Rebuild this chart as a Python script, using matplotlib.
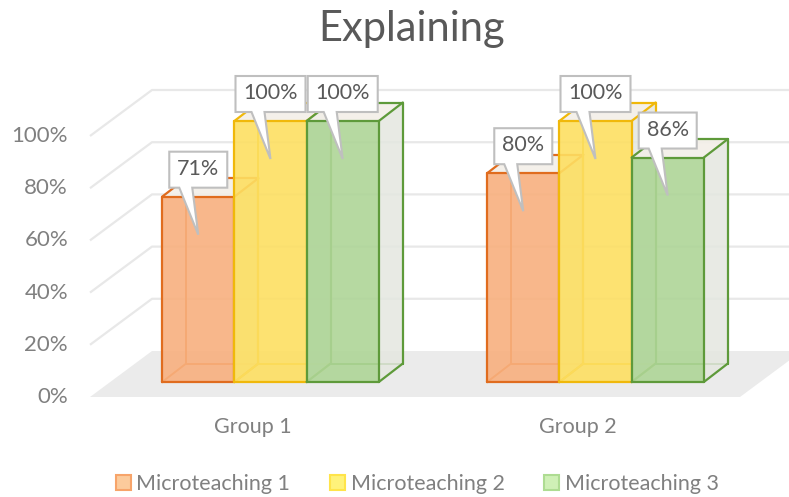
import matplotlib.pyplot as plt
from matplotlib.patches import Polygon, Patch

plt.rcParams['font.family'] = ['Lato', 'DejaVu Sans']

groups = ['Group 1', 'Group 2']
series = ['Microteaching 1', 'Microteaching 2', 'Microteaching 3']
values = [[71, 100, 100],    # Group 1
          [80, 100, 86]]     # Group 2
yticks = [0, 20, 40, 60, 80, 100]

face_colors = ['#F8B07E', '#FDDF62', '#AED597']
edge_colors = ['#E06C1E', '#F0B80A', '#5E9A3A']
legend_face = ['#FCCB9C', '#FFF27A', '#CFF0B6']
legend_edge = ['#F7A46A', '#FFE44A', '#AEDC92']

W, H, DPI = 789, 497, 100
PX = 325.0   # pixels per category
PY = 2.61    # pixels per percent
X0, Y0 = 90, 397   # front-left corner of the floor


def sx(p):
    return p / PX


def sy(p):
    return p / PY


# depth of the floor and of the bars, in data units
FDX, FDY = sx(62), sy(46)
BFX, BFY = sx(18), sy(15)
BBX, BBY = sx(42), sy(33.5)

GAP = 1.5
bw = 1.0 / (len(series) + GAP)

fig = plt.figure(figsize=(W / DPI, H / DPI), dpi=DPI)
ax = fig.add_axes([0, 0, 1, 1])
ax.set_xlim(-X0 / PX, (W - X0) / PX)
ax.set_ylim((Y0 - H) / PY, Y0 / PY)
ax.axis('off')

ncat = len(groups)

# floor
ax.add_patch(Polygon([(0, 0), (ncat, 0), (ncat + FDX, FDY), (FDX, FDY)],
                     closed=True, facecolor='#EBEBEB', edgecolor='none', zorder=1))

# side-wall and back-wall gridlines
for v in yticks[1:]:
    ax.plot([0, FDX, ncat + FDX + 0.2], [v, v + FDY, v + FDY],
            color='#E8E8E8', lw=1.6, zorder=1, solid_capstyle='butt')

for v in yticks:
    ax.text(sx(-22), v, f'{v}%', ha='right', va='center',
            fontsize=16, color='#808080')

for g, name in enumerate(groups):
    ax.text(g + 0.5, sy(-30), name, ha='center', va='center',
            fontsize=15.5, color='#808080')

z = 3
for g in range(ncat):
    for s in range(len(series)):
        v = values[g][s]
        x0 = g + 0.75 * bw + s * bw
        x1 = x0 + bw
        fl, fr = x0 + BFX, x1 + BFX
        bl, br = x0 + BBX, x1 + BBX
        f_lb, f_rb, f_rt, f_lt = (fl, BFY), (fr, BFY), (fr, v + BFY), (fl, v + BFY)
        b_lb, b_rb, b_rt, b_lt = (bl, BBY), (br, BBY), (br, v + BBY), (bl, v + BBY)
        ec = edge_colors[s]

        # hidden edges first so they show through the front face
        for a, b in [(b_lb, b_lt), (b_lb, b_rb), (f_lb, b_lb)]:
            ax.plot([a[0], b[0]], [a[1], b[1]], color=ec, lw=1.4, zorder=z)
        ax.add_patch(Polygon([f_rb, b_rb, b_rt, f_rt], closed=True,
                             facecolor='#E4E7E0', alpha=0.85, edgecolor='none', zorder=z + 1))
        ax.add_patch(Polygon([f_lt, f_rt, b_rt, b_lt], closed=True,
                             facecolor='#F3EFE8', alpha=0.9, edgecolor='none', zorder=z + 1))
        ax.add_patch(Polygon([f_lb, f_rb, f_rt, f_lt], closed=True,
                             facecolor=face_colors[s], alpha=0.9, edgecolor='none', zorder=z + 2))
        for a, b in [(f_lb, f_rb), (f_rb, f_rt), (f_rt, f_lt), (f_lt, f_lb),
                     (f_lt, b_lt), (b_lt, b_rt), (f_rt, b_rt), (b_rt, b_rb), (f_rb, b_rb)]:
            ax.plot([a[0], b[0]], [a[1], b[1]], color=ec, lw=1.6, zorder=z + 3,
                    solid_capstyle='round')
        z += 4

# callout labels
for g in range(ncat):
    for s in range(len(series)):
        v = values[g][s]
        label = f'{v}%'
        xc = g + 0.75 * bw + s * bw + BFX + bw / 2
        top = v + BFY
        half = sx((22 + 12 * len(label)) / 2)
        yb = top + sy(9)
        yt = yb + sy(36)
        tip = (xc, top - sy(38))
        shape = [(xc - half, yt), (xc + half, yt), (xc + half, yb),
                 (xc - sx(6), yb), tip, (xc - sx(19), yb), (xc - half, yb)]
        ax.add_patch(Polygon(shape, closed=True, facecolor='white',
                             edgecolor='#BFBFBF', lw=1.5, zorder=100, joinstyle='miter'))
        ax.text(xc, (yb + yt) / 2 + sy(1), label, ha='center', va='center',
                fontsize=15.5, color='#595959', zorder=101)

fig.text(0.521, 1 - 29 / H, 'Explaining', ha='center', va='center',
         fontsize=30, color='#595959')

handles = [Patch(facecolor=legend_face[i], edgecolor=legend_edge[i], lw=1.5, label=series[i])
           for i in range(len(series))]
fig.legend(handles=handles, loc='center', bbox_to_anchor=(0.529, 1 - 484 / H),
           ncol=3, frameon=False, fontsize=15.5, labelcolor='#808080',
           handlelength=0.7, handleheight=0.7, handletextpad=0.25, columnspacing=1.85)

fig.savefig('out.png', dpi=DPI)
